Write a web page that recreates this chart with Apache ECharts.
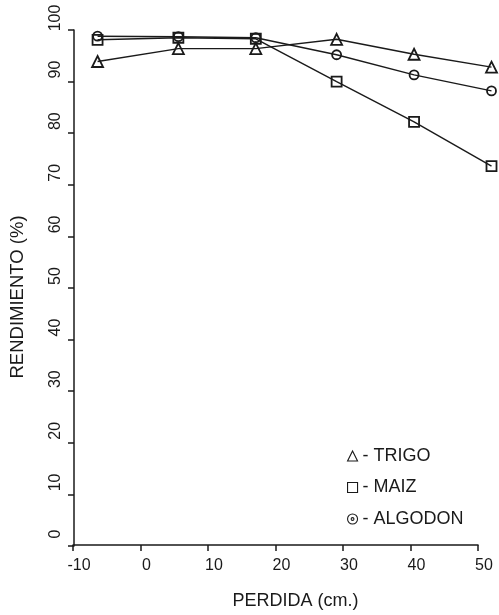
<!DOCTYPE html>
<html>
<head>
<meta charset="utf-8">
<script src="https://cdn.jsdelivr.net/npm/echarts@6/dist/echarts.min.js"></script>
<style>
html,body{margin:0;padding:0;background:#fff;}
#c{width:499px;height:615px;}
</style>
</head>
<body>
<div id="c"></div>
<script>
// ---- data ----
var perdida = [-6.5, 5.5, 17, 29, 40.5, 52];
var trigo   = [93.9, 96.4, 96.4, 98.2, 95.3, 92.8];
var maiz    = [98.1, 98.5, 98.3, 90.0, 82.2, 73.6];
var algodon = [98.8, 98.7, 98.5, 95.2, 91.3, 88.2];
var seriesNames = ['TRIGO', 'MAIZ', 'ALGODON'];
var xTicks = [-10, 0, 10, 20, 30, 40, 50];
var xTitle = 'PERDIDA (cm.)';
var yTitle = 'RENDIMIENTO (%)';

function pairs(ys){ return perdida.map(function(x,i){ return [x, ys[i]]; }); }

var ink = '#1a1a1a';
var font = 'Liberation Sans, Arial, Helvetica, sans-serif';
var algIcon = 'path://M5,0A5,5,0,1,1,5,10A5,5,0,1,1,5,0ZM5,3.6A1.4,1.4,0,1,1,5,6.4A1.4,1.4,0,1,1,5,3.6Z';

function mk(name, ys, symbol, size){
  return {
    name: name, type: 'line', data: pairs(ys), xAxisIndex: 0, yAxisIndex: 0,
    symbol: symbol, symbolSize: size, showAllSymbol: true, clip: false,
    lineStyle: {color: ink, width: 1.4},
    itemStyle: {color: 'rgba(255,255,255,0)', borderColor: ink, borderWidth: 1.8},
    emphasis: {disabled: true}, animation: false, z: 3
  };
}

// px per unit on the visible x axis: (499-73-21)/60
var pxPerUnit = (499 - 73 - 21) / 60;
var dataRight = 499 - 73 - pxPerUnit * (perdida[perdida.length-1] + 10);

var chart = echarts.init(document.getElementById('c'), null, {renderer: 'canvas'});
chart.setOption({
  backgroundColor: '#fff',
  animation: false,
  grid: [
    {left: 73, right: dataRight, top: 30, bottom: 69, containLabel: false},
    {left: 73, right: 21, top: 30, bottom: 69, containLabel: false}
  ],
  xAxis: [{
    gridIndex: 0, type: 'value', min: -10, max: perdida[perdida.length-1],
    show: false, splitLine: {show: false}
  }, {
    gridIndex: 1, type: 'value', min: -10, max: 50, interval: 10,
    name: xTitle, nameLocation: 'middle', nameGap: 47,
    nameTextStyle: {color: ink, fontSize: 18, fontFamily: font, padding: [0,0,0,40]},
    axisLine: {show: true, onZero: false, lineStyle: {color: ink, width: 1.5}},
    axisTick: {show: true, length: 6, customValues: xTicks, lineStyle: {color: ink, width: 1.5}},
    axisLabel: {color: ink, fontSize: 16, fontFamily: font, margin: 13, padding: [0,0,0,12], customValues: xTicks},
    splitLine: {show: false}
  }],
  yAxis: [{
    gridIndex: 0, type: 'value', min: 0, max: 100, interval: 10,
    name: yTitle, nameLocation: 'middle', nameGap: 47, nameRotate: 90,
    nameTextStyle: {color: ink, fontSize: 18.5, fontFamily: font, padding: [0,18,0,0]},
    axisLine: {show: true, onZero: false, lineStyle: {color: ink, width: 1.5}},
    axisTick: {show: true, length: 6, lineStyle: {color: ink, width: 1.5}},
    axisLabel: {color: ink, fontSize: 16, fontFamily: font, rotate: 90, margin: 10, padding: [0,0,0,24]},
    splitLine: {show: false}
  }, {
    gridIndex: 1, type: 'value', min: 0, max: 100, show: false, splitLine: {show: false}
  }],
  legend: {
    orient: 'vertical', left: 342, top: 441,
    itemWidth: 10, itemHeight: 10, itemGap: 11.5,
    selectedMode: false,
    data: [
      {name: seriesNames[0], icon: 'triangle'},
      {name: seriesNames[1], icon: 'rect'},
      {name: seriesNames[2], icon: algIcon}
    ],
    itemStyle: {color: 'rgba(255,255,255,0)', borderColor: ink, borderWidth: 1.1},
    lineStyle: {width: 0},
    formatter: function(n){ return '- ' + n; },
    textStyle: {color: ink, fontSize: 18, fontFamily: font, lineHeight: 20}
  },
  series: [
    mk(seriesNames[0], trigo, 'triangle', 11),
    mk(seriesNames[1], maiz, 'rect', 10),
    mk(seriesNames[2], algodon, 'circle', 9)
  ]
});
</script>
</body>
</html>
